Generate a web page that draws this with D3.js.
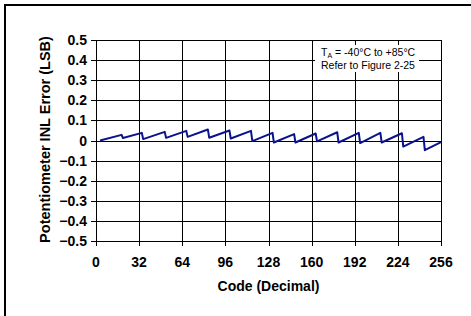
<!DOCTYPE html>
<html>
<head>
<meta charset="utf-8">
<script src="https://cdn.jsdelivr.net/npm/d3@7"></script>
<style>
  html, body { margin: 0; padding: 0; background: #fff; }
  svg { display: block; font-family: "Liberation Sans", Arial, sans-serif; }
</style>
</head>
<body>
<svg id="chart" width="471" height="316"></svg>
<script>
// INL error vs code
const codes = [3, 19, 20, 34, 35, 51, 52, 67, 68, 83, 84, 99, 100, 115, 116, 131, 132,
  147, 148, 163, 164, 179, 180, 195, 196, 211, 212, 227, 228, 243, 244, 256]
const inlError = [0.000, 0.028, 0.012, 0.038, 0.007, 0.043, 0.013, 0.048, 0.018, 0.055, 0.014,
  0.050, 0.010, 0.048, -0.003, 0.038, -0.010, 0.032, -0.010, 0.035, -0.004, 0.041, -0.010,
  0.038, -0.013, 0.038, -0.010, 0.036, -0.030, 0.018, -0.048, -0.008]

const xTicks = [0, 32, 64, 96, 128, 160, 192, 224, 256]
const yTicks = [0.5, 0.4, 0.3, 0.2, 0.1, 0, -0.1, -0.2, -0.3, -0.4, -0.5]
const noteLines = ['Refer to Figure 2-25']

const svg = d3.select('#chart')

const x = d3.scaleLinear().domain([0, 256]).range([96, 441])
const y = d3.scaleLinear().domain([-0.5, 0.5]).range([241, 40])

// outer frame (top and left visible)
svg.append('rect')
    .attr('x', 5).attr('y', 5)
    .attr('width', 480).attr('height', 330)
    .attr('fill', 'none')
    .attr('stroke', '#000')
    .attr('stroke-width', 2)

const grid = svg.append('g').attr('shape-rendering', 'crispEdges')

grid.selectAll('line.h')
    .data(yTicks)
    .enter()
    .append('line')
    .attr('x1', x(0) - 5)
    .attr('x2', x(256))
    .attr('y1', d => Math.round(y(d)) + 0.5)
    .attr('y2', d => Math.round(y(d)) + 0.5)
    .attr('stroke', '#000')

grid.selectAll('line.v')
    .data(xTicks)
    .enter()
    .append('line')
    .attr('x1', d => Math.round(x(d)) + 0.5)
    .attr('x2', d => Math.round(x(d)) + 0.5)
    .attr('y1', y(0.5))
    .attr('y2', y(-0.5) + 5)
    .attr('stroke', '#000')

// note box
const note = svg.append('g')
note.append('rect')
    .attr('x', 315).attr('y', 45)
    .attr('width', 104).attr('height', 27)
    .attr('fill', '#fff')

const t1 = note.append('text')
    .attr('x', 321).attr('y', 56)
    .attr('font-size', 10.5)
t1.append('tspan').text('T')
t1.append('tspan').attr('font-size', 7).attr('dy', 2).text('A')
t1.append('tspan').attr('dy', -2).text(' = -40°C to +85°C')

note.selectAll('text.l2')
    .data(noteLines)
    .enter()
    .append('text')
    .attr('x', 321).attr('y', 69)
    .attr('font-size', 10.5)
    .text(d => d)

// curve
const line = d3.line()
    .x((d, i) => x(codes[i]))
    .y(d => y(d))

svg.append('path')
    .datum(inlError)
    .attr('d', line)
    .attr('fill', 'none')
    .attr('stroke', '#0a128c')
    .attr('stroke-width', 2)
    .attr('stroke-linejoin', 'round')

// tick labels
svg.append('g')
    .selectAll('text')
    .data(yTicks)
    .enter()
    .append('text')
    .attr('x', 87)
    .attr('y', d => y(d) + 5)
    .attr('text-anchor', 'end')
    .attr('font-size', 14)
    .attr('font-weight', 'bold')
    .text(d => d === 0 ? '0' : d3.format('.1f')(d))

svg.append('g')
    .selectAll('text')
    .data(xTicks)
    .enter()
    .append('text')
    .attr('x', d => x(d))
    .attr('y', 267)
    .attr('text-anchor', 'middle')
    .attr('font-size', 14)
    .attr('font-weight', 'bold')
    .text(d => d)

svg.append('text')
    .attr('x', x(128))
    .attr('y', 291)
    .attr('text-anchor', 'middle')
    .attr('font-size', 14)
    .attr('font-weight', 'bold')
    .text('Code (Decimal)')

svg.append('text')
    .attr('transform', `translate(50,${y(0) - 1})rotate(-90)`)
    .attr('text-anchor', 'middle')
    .attr('font-size', 14.5)
    .attr('font-weight', 'bold')
    .text('Potentiometer INL Error (LSB)')
</script>
</body>
</html>
